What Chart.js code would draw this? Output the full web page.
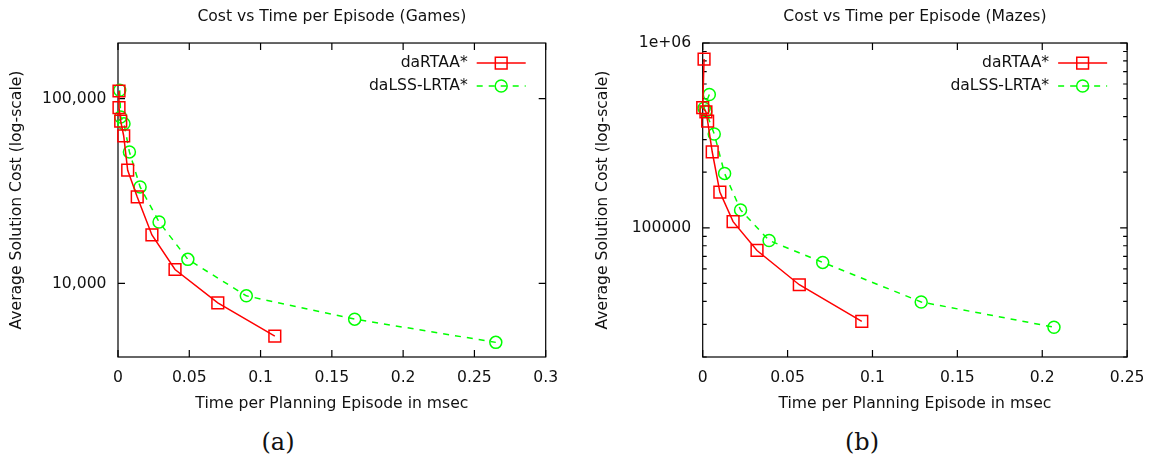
<!DOCTYPE html>
<html>
<head>
<meta charset="utf-8">
<script src="https://cdn.jsdelivr.net/npm/chart.js@4.4.1/dist/chart.umd.min.js"></script>
<style>
  body { margin: 0; background: #fff; width: 1156px; height: 464px; position: relative; overflow: hidden; }
  .panel { position: absolute; top: 0; width: 578px; height: 420px; }
  .cap { position: absolute; top: 428px; width: 80px; margin-left: -40px; text-align: center;
         font-family: "DejaVu Serif", serif; font-size: 24px; color: #111; }
</style>
</head>
<body>
<div class="panel" style="left:0"><canvas id="chartGames" width="578" height="420"></canvas></div>
<div class="panel" style="left:578px"><canvas id="chartMazes" width="578" height="420"></canvas></div>
<div class="cap" style="left:278px">(a)</div>
<div class="cap" style="left:862px">(b)</div>
<script>
// series names
var seriesNames = ['daRTAA*', 'daLSS-LRTA*'];

// (a) Games
var gamesRtaaTime = [0.0007, 0.0007, 0.0019, 0.004, 0.0068, 0.0135, 0.0238, 0.040, 0.070, 0.110];
var gamesRtaaCost = [110000, 89400, 75600, 62800, 41000, 29400, 18300, 11900, 7850, 5190];
var gamesLssTime = [0.0012, 0.0019, 0.0042, 0.008, 0.0155, 0.0288, 0.049, 0.090, 0.166, 0.265];
var gamesLssCost = [111000, 79500, 73200, 51500, 33300, 21500, 13500, 8570, 6410, 4800];
var gamesXTicks = [0, 0.05, 0.1, 0.15, 0.2, 0.25, 0.3];
var gamesXLabels = ['0', '0.05', '0.1', '0.15', '0.2', '0.25', '0.3'];
var gamesYTicks = [10000, 100000];
var gamesYLabels = ['10,000', '100,000'];
var gamesYMinor = [];

// (b) Mazes
var mazesRtaaTime = [0.0008, 0.0, 0.0019, 0.0029, 0.0056, 0.0101, 0.0179, 0.032, 0.0569, 0.0937];
var mazesRtaaCost = [819000, 447000, 424000, 378000, 258000, 156000, 108000, 75400, 49200, 31200];
var mazesLssTime = [0.0039, 0.0008, 0.0018, 0.0068, 0.0129, 0.0223, 0.0391, 0.0707, 0.1287, 0.2069];
var mazesLssCost = [527000, 444000, 428000, 322000, 197000, 125000, 85400, 65000, 39700, 29000];
var mazesXTicks = [0, 0.05, 0.1, 0.15, 0.2, 0.25];
var mazesXLabels = ['0', '0.05', '0.1', '0.15', '0.2', '0.25'];
var mazesYTicks = [100000, 1000000];
var mazesYLabels = ['100000', '1e+06'];
var mazesYMinor = [20000, 30000, 40000, 50000, 60000, 70000, 80000, 90000,
                   200000, 300000, 400000, 500000, 600000, 700000, 800000, 900000];

var ink = '#111';
var fontFamily = '"DejaVu Sans", sans-serif';
var fontSize = 15.6;

function toPoints(xs, ys) {
    return xs.map(function (x, i) { return { x: x, y: ys[i] }; });
}

function markPath(ctx, style, x, y, r) {
    ctx.beginPath();
    if (style === 'rect') {
        var s = r * Math.SQRT1_2;
        ctx.rect(x - s, y - s, 2 * s, 2 * s);
    } else {
        ctx.arc(x, y, r, 0, Math.PI * 2);
    }
}

// gnuplot style box with inward tick marks
var framePlugin = {
    id: 'gnuFrame',
    beforeDatasetsDraw: function (chart, args, opts) {
        var ctx = chart.ctx, a = chart.chartArea;
        var xs = chart.scales.x, ys = chart.scales.y;
        ctx.save();
        ctx.strokeStyle = '#000';
        ctx.lineWidth = 1.2;
        ctx.beginPath();
        xs.ticks.forEach(function (t) {
            var px = xs.getPixelForValue(t.value);
            ctx.moveTo(px, a.bottom); ctx.lineTo(px, a.bottom - 7);
            ctx.moveTo(px, a.top); ctx.lineTo(px, a.top + 7);
        });
        ys.ticks.forEach(function (t) {
            var py = ys.getPixelForValue(t.value);
            var len = opts.major.indexOf(t.value) >= 0 ? 7 : 4;
            ctx.moveTo(a.left, py); ctx.lineTo(a.left + len, py);
            ctx.moveTo(a.right, py); ctx.lineTo(a.right - len, py);
        });
        ctx.stroke();
        ctx.strokeRect(a.left, a.top, a.right - a.left, a.bottom - a.top);
        ctx.restore();
    }
};

// key in the top right corner: text, then line sample with marker
var keyPlugin = {
    id: 'gnuKey',
    afterDraw: function (chart) {
        var ctx = chart.ctx, a = chart.chartArea;
        ctx.save();
        chart.data.datasets.forEach(function (ds, i) {
            var y = a.top + 20 + i * 23;
            ctx.fillStyle = ink;
            ctx.font = fontSize + 'px ' + fontFamily;
            ctx.textAlign = 'right';
            ctx.textBaseline = 'middle';
            ctx.fillText(ds.label, a.right - 78, y);
            ctx.strokeStyle = ds.borderColor;
            ctx.lineWidth = ds.borderWidth;
            ctx.setLineDash(ds.borderDash || []);
            ctx.beginPath();
            ctx.moveTo(a.right - 69, y); ctx.lineTo(a.right - 20, y);
            ctx.stroke();
            ctx.setLineDash([]);
            markPath(ctx, ds.pointStyle, a.right - 44.5, y, ds.pointRadius);
            ctx.stroke();
        });
        ctx.restore();
    }
};

function buildChart(id, cfg) {
    var font = { family: fontFamily, size: fontSize, weight: 'normal' };
    var allY = cfg.yTicks.concat(cfg.yMinor).sort(function (p, q) { return p - q; });
    return new Chart(document.getElementById(id), {
        type: 'scatter',
        data: {
            datasets: [{
                label: seriesNames[0],
                data: toPoints(cfg.rtaaTime, cfg.rtaaCost),
                borderColor: '#ff0000',
                backgroundColor: 'rgba(0,0,0,0)',
                pointBackgroundColor: 'rgba(0,0,0,0)',
                borderWidth: 1.5,
                pointBorderWidth: 1.5,
                pointStyle: 'rect',
                pointRadius: 8.3,
                showLine: true,
                clip: false
            }, {
                label: seriesNames[1],
                data: toPoints(cfg.lssTime, cfg.lssCost),
                borderColor: '#00ff00',
                backgroundColor: 'rgba(0,0,0,0)',
                pointBackgroundColor: 'rgba(0,0,0,0)',
                borderWidth: 1.5,
                pointBorderWidth: 1.5,
                borderDash: [6, 6],
                pointStyle: 'circle',
                pointRadius: 6,
                showLine: true,
                clip: false
            }]
        },
        plugins: [framePlugin, keyPlugin],
        options: {
            responsive: false,
            animation: false,
            devicePixelRatio: 1,
            layout: { padding: { left: 0, right: cfg.padRight, top: 0, bottom: 0 } },
            plugins: {
                legend: { display: false },
                tooltip: { enabled: false },
                title: {
                    display: true,
                    text: cfg.title,
                    fullSize: false,
                    color: ink,
                    font: font,
                    padding: { top: 7.8, bottom: 16.5 }
                },
                gnuFrame: { major: cfg.yTicks }
            },
            scales: {
                x: {
                    type: 'linear',
                    min: 0,
                    max: cfg.xTicks[cfg.xTicks.length - 1],
                    afterBuildTicks: function (s) {
                        s.ticks = cfg.xTicks.map(function (v) { return { value: v }; });
                    },
                    afterFit: function (s) { s.height = 63; },
                    grid: { display: false, drawTicks: false },
                    border: { display: false },
                    ticks: {
                        autoSkip: false,
                        maxRotation: 0,
                        padding: 11.5,
                        color: ink,
                        font: font,
                        callback: function (v) {
                            var i = cfg.xTicks.indexOf(v);
                            return i >= 0 ? cfg.xLabels[i] : '';
                        }
                    },
                    title: {
                        display: true,
                        text: 'Time per Planning Episode in msec',
                        color: ink,
                        font: font,
                        padding: { top: 0, bottom: 6.6 }
                    }
                },
                y: {
                    type: 'logarithmic',
                    min: cfg.yMin,
                    max: cfg.yMax,
                    afterBuildTicks: function (s) {
                        s.ticks = allY.map(function (v) { return { value: v }; });
                    },
                    afterFit: function (s) { s.width = cfg.yAxisWidth; },
                    grid: { display: false, drawTicks: false },
                    border: { display: false },
                    ticks: {
                        autoSkip: false,
                        padding: 11.5,
                        color: ink,
                        font: font,
                        callback: function (v) {
                            var i = cfg.yTicks.indexOf(v);
                            return i >= 0 ? cfg.yLabels[i] : '';
                        }
                    },
                    title: {
                        display: true,
                        text: 'Average Solution Cost (log-scale)',
                        color: ink,
                        font: font,
                        padding: { top: cfg.yTitlePad, bottom: 0 }
                    }
                }
            }
        }
    });
}

buildChart('chartGames', {
    title: 'Cost vs Time per Episode (Games)',
    rtaaTime: gamesRtaaTime, rtaaCost: gamesRtaaCost,
    lssTime: gamesLssTime, lssCost: gamesLssCost,
    xTicks: gamesXTicks, xLabels: gamesXLabels,
    yTicks: gamesYTicks, yLabels: gamesYLabels, yMinor: gamesYMinor,
    yMin: 4000, yMax: 200000,
    yAxisWidth: 118, padRight: 32.3, yTitlePad: 7.9
});

buildChart('chartMazes', {
    title: 'Cost vs Time per Episode (Mazes)',
    rtaaTime: mazesRtaaTime, rtaaCost: mazesRtaaCost,
    lssTime: mazesLssTime, lssCost: mazesLssCost,
    xTicks: mazesXTicks, xLabels: mazesXLabels,
    yTicks: mazesYTicks, yLabels: mazesYLabels, yMinor: mazesYMinor,
    yMin: 20000, yMax: 1000000,
    yAxisWidth: 124.7, padRight: 26.7, yTitlePad: 15.3
});
</script>
</body>
</html>
